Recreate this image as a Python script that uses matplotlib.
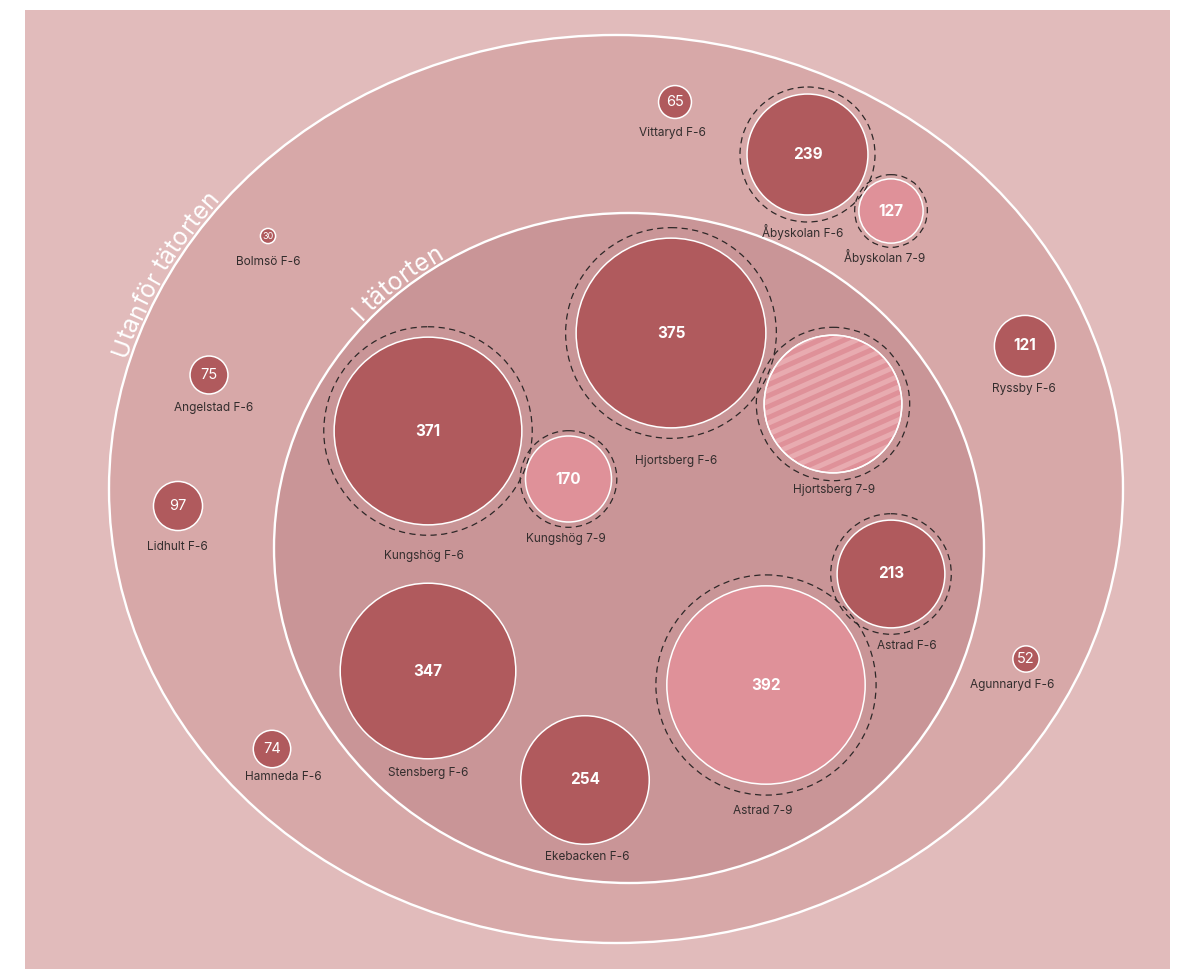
"""Bubbeldiagram: antal elever per skola, i och utanför tätorten."""

import matplotlib
matplotlib.use("Agg")
import matplotlib.pyplot as plt
from matplotlib.font_manager import FontProperties
from matplotlib.patches import Circle, Ellipse, Rectangle
import numpy as np

# ---------------------------------------------------------------------------
# Data
# ---------------------------------------------------------------------------

skolor = [
    "Vittaryd F-6", "Åbyskolan F-6", "Åbyskolan 7-9", "Bolmsö F-6",
    "Ryssby F-6", "Angelstad F-6", "Lidhult F-6", "Hamneda F-6",
    "Agunnaryd F-6",
    "Kungshög F-6", "Kungshög 7-9", "Hjortsberg F-6", "Hjortsberg 7-9",
    "Astrad F-6", "Astrad 7-9", "Stensberg F-6", "Ekebacken F-6",
]
elever = [65, 239, 127, 30, 121, 75, 97, 74, 52,
          371, 170, 375, 272, 213, 392, 347, 254]
visa_antal = [True] * 12 + [False] + [True] * 4      # Hjortsberg 7-9 saknar siffra
planerad = [False] * 12 + [True] + [False] * 4       # randig bubbla

# ---------------------------------------------------------------------------
# Layout (pixel coordinates, y downwards)
# ---------------------------------------------------------------------------

centers = [
    (675, 102), (807.5, 154.5), (891, 211), (268, 236),
    (1025, 346), (209, 375), (178, 506), (272, 749),
    (1026, 659),
    (428, 431), (568.5, 479), (671, 333), (833, 404),
    (891, 574), (766, 685), (428, 671), (585, 780),
]
label_pos = [
    (672, 133), (803, 232), (885, 257), (268, 262),
    (1024, 389), (214, 408), (177, 547), (283, 777),
    (1012, 685),
    (424, 556), (566, 539), (676, 461), (834, 490),
    (907, 646), (763, 811), (428, 773), (587, 857),
]

W, H = 1188, 969
R_PER_ELEV = 0.253

OUTER = dict(cx=616, cy=489, rx=507, ry=454)
INNER = dict(cx=629, cy=548, rx=355, ry=335)

C_BG = "#e1bbbb"
C_OUTER = "#d7a8a8"
C_INNER = "#c99597"
C_DARK = "#b05a5d"
C_LIGHT = "#df9199"
C_STRIPE = "#e8abb0"
C_TEXT = "#332d2d"
FONT = "Inter"


def ellipse_text(ax, renderer, text, e, theta_mid, offset, size):
    """Place text character by character along an ellipse (y axis down)."""
    fp = FontProperties(family=FONT, size=size)

    def width(s):
        w0 = renderer.get_text_width_height_descent("I", fp, ismath=False)[0]
        w1 = renderer.get_text_width_height_descent(s + "I", fp, ismath=False)[0]
        return w1 - w0

    t = np.linspace(0, 2 * np.pi, 6000)
    px = e["cx"] + e["rx"] * np.cos(t)
    py = e["cy"] + e["ry"] * np.sin(t)
    s = np.concatenate([[0], np.cumsum(np.hypot(np.diff(px), np.diff(py)))])

    total = width(text)
    s_mid = np.interp(np.radians(theta_mid), t, s)
    for i, ch in enumerate(text):
        if ch == " ":
            continue
        pre = width(text[:i])
        cw = width(ch)
        si = s_mid - total / 2 + pre + cw / 2
        th = np.interp(si, s, t)
        nx, ny = np.cos(th) / e["rx"], np.sin(th) / e["ry"]
        nn = np.hypot(nx, ny)
        bx = e["cx"] + e["rx"] * np.cos(th) + offset * nx / nn
        by = e["cy"] + e["ry"] * np.sin(th) + offset * ny / nn
        tx, ty = -e["rx"] * np.sin(th), e["ry"] * np.cos(th)
        ang = np.degrees(np.arctan2(-ty, tx))
        ax.text(bx, by, ch, fontproperties=fp, color="white", ha="center",
                va="baseline", rotation=ang, rotation_mode="anchor", zorder=3)


fig = plt.figure(figsize=(W / 100, H / 100), dpi=100)
ax = fig.add_axes([0, 0, 1, 1])
ax.set_xlim(0, W)
ax.set_ylim(H, 0)
ax.set_aspect("equal")
ax.axis("off")
renderer = fig.canvas.get_renderer()

ax.add_patch(Rectangle((25, 10), 1145, 959, facecolor=C_BG, edgecolor="none", zorder=0))
for e, fc in [(OUTER, C_OUTER), (INNER, C_INNER)]:
    ax.add_patch(Ellipse((e["cx"], e["cy"]), 2 * e["rx"], 2 * e["ry"],
                         facecolor=fc, edgecolor="white", linewidth=1.7, zorder=1))

ellipse_text(ax, renderer, "Utanför tätorten", OUTER, 208.0, 4, 17.5)
ellipse_text(ax, renderer, "I tätorten", INNER, 230.5, 4, 17.5)

basnamn = [n.rsplit(" ", 1)[0] for n in skolor]

for i, namn in enumerate(skolor):
    x, y = centers[i]
    r = elever[i] * R_PER_ELEV
    color = C_LIGHT if namn.endswith("7-9") else C_DARK

    # skolor med både F-6 och 7-9 får en streckad ring
    if basnamn.count(basnamn[i]) > 1:
        ax.add_patch(Circle((x, y), r * 1.1 + 1, facecolor="none", edgecolor="#2e2828",
                            linewidth=0.9, linestyle=(0, (5, 3.5)), zorder=4))

    circ = Circle((x, y), r, facecolor=color, edgecolor="white", linewidth=1.1, zorder=5)
    ax.add_patch(circ)

    if planerad[i]:
        a = np.radians(24)
        d = np.array([np.cos(a), -np.sin(a)])
        nvec = np.array([np.sin(a), np.cos(a)])
        for k in np.arange(-r - 10, r + 10, 10):
            p0 = np.array([x, y]) + nvec * k - d * (r + 10)
            p1 = np.array([x, y]) + nvec * k + d * (r + 10)
            ln, = ax.plot([p0[0], p1[0]], [p0[1], p1[1]], color=C_STRIPE,
                          linewidth=3.6, solid_capstyle="butt", zorder=6)
            ln.set_clip_path(circ)
        ax.add_patch(Circle((x, y), r, facecolor="none", edgecolor="white",
                            linewidth=1.1, zorder=7))

    if visa_antal[i]:
        v = elever[i]
        if v < 40:
            fs, fw = 6.5, "normal"
        elif v < 100:
            fs, fw = 10.5, "normal"
        else:
            fs, fw = 11, "bold"
        ax.text(x, y, str(v), color="white", fontsize=fs, fontweight=fw,
                family=FONT, ha="center", va="center", zorder=8)

    lx, ly = label_pos[i]
    ax.text(lx, ly, namn, color=C_TEXT, fontsize=8.5, family=FONT,
            ha="center", va="center", zorder=8)

fig.savefig("out.png", dpi=100)
plt.close(fig)
